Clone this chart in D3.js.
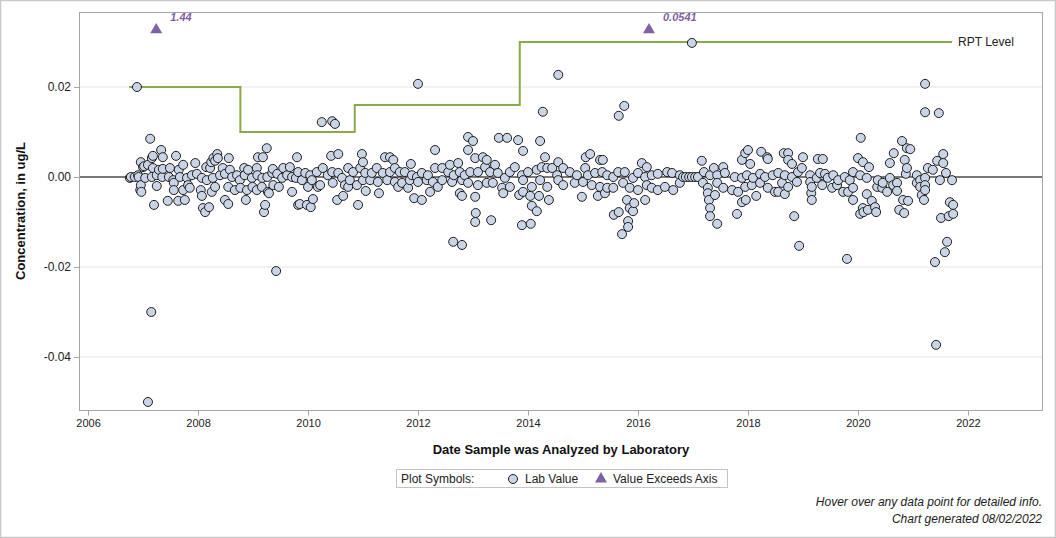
<!DOCTYPE html>
<html lang="en">
<head>
<meta charset="utf-8">
<script src="https://d3js.org/d3.v7.min.js"></script>
<style>
  body { margin: 0; background: #fff; }
  text { font-family: "Liberation Sans", Arial, sans-serif; }
</style>
</head>
<body>
<script>
// lab values: [decimal year analysed, concentration ug/L]
const labPoints = [
  [2006.76,-0.0002],[2006.78,0],[2006.85,0],[2006.89,0.0200],[2006.91,0.0004],[2006.92,0],[2006.95,-0.0029],
  [2006.96,0.0033],[2006.96,-0.0018],[2006.97,-0.0033],[2007.00,0.0022],[2007.02,0.0024],[2007.04,-0.0002],
  [2007.09,0.0027],[2007.09,-0.0500],[2007.13,0.0085],[2007.15,-0.0300],[2007.16,0.0042],[2007.16,0],
  [2007.18,0.0047],[2007.18,0.0020],[2007.20,-0.0062],[2007.25,0.0004],[2007.25,-0.0020],[2007.29,0.0016],
  [2007.33,0.0060],[2007.35,0],[2007.36,0.0044],[2007.36,0.0018],[2007.45,-0.0053],[2007.47,0],[2007.49,0.0020],
  [2007.55,-0.0007],[2007.56,-0.0013],[2007.56,-0.0029],[2007.60,0.0047],[2007.64,-0.0053],[2007.65,0.0016],
  [2007.67,0],[2007.73,0.0027],[2007.73,-0.0029],[2007.76,-0.0051],[2007.80,-0.0002],[2007.82,-0.0018],
  [2007.85,-0.0024],[2007.89,0.0004],[2007.95,0.0031],[2007.98,0.0007],[2008.05,-0.0029],[2008.07,-0.0002],
  [2008.07,-0.0042],[2008.09,-0.0069],[2008.13,-0.0078],[2008.15,0.0022],[2008.16,-0.0007],[2008.20,-0.0067],
  [2008.22,0.0020],[2008.24,0.0033],[2008.25,-0.0033],[2008.27,-0.0002],[2008.28,0.0042],[2008.31,0.0036],
  [2008.31,-0.0022],[2008.35,0.0051],[2008.36,0.0042],[2008.40,0.0004],[2008.45,0.0020],[2008.49,0.0007],
  [2008.49,-0.0051],[2008.55,-0.0022],[2008.55,-0.0060],[2008.56,0.0042],[2008.58,0.0016],[2008.62,0],
  [2008.67,-0.0029],[2008.71,0.0004],[2008.76,-0.0007],[2008.77,-0.0024],[2008.84,0.0020],[2008.85,0.0004],
  [2008.87,-0.0051],[2008.89,-0.0029],[2008.91,0.0016],[2008.98,-0.0002],[2008.99,-0.0022],[2009.07,0.0020],
  [2009.08,0.0004],[2009.07,-0.0029],[2009.09,0.0044],[2009.16,-0.0022],[2009.17,-0.0002],[2009.18,0.0044],
  [2009.20,-0.0078],[2009.22,-0.0062],[2009.25,0.0064],[2009.26,0],[2009.27,-0.0033],[2009.29,-0.0036],
  [2009.35,0.0009],[2009.36,0.0018],[2009.37,-0.0018],[2009.42,-0.0209],[2009.44,0.0007],[2009.47,-0.0022],
  [2009.53,-0.0002],[2009.55,0.0020],[2009.62,0.0004],[2009.67,0.0022],[2009.71,0],[2009.71,-0.0033],
  [2009.78,-0.0002],[2009.80,0.0044],[2009.82,-0.0062],[2009.82,0.0011],
  [2009.85,-0.0060],[2009.89,-0.0007],[2009.95,0.0009],[2009.98,-0.0062],[2010.00,-0.0022],[2010.04,0.0004],
  [2010.05,-0.0067],[2010.07,-0.0007],[2010.09,-0.0049],[2010.16,0.0011],[2010.18,-0.0022],[2010.22,-0.0018],
  [2010.25,0.0122],[2010.27,0.0020],[2010.36,0.0004],[2010.42,0.0047],[2010.44,0.0124],[2010.44,0.0011],
  [2010.45,-0.0013],[2010.49,0.0118],[2010.53,-0.0051],[2010.55,0.0051],[2010.55,0.0009],[2010.62,-0.0002],
  [2010.64,-0.0042],[2010.67,-0.0018],[2010.73,0.0020],[2010.73,-0.0022],[2010.76,-0.0007],[2010.82,0.0011],
  [2010.89,-0.0018],[2010.91,-0.0062],[2010.95,0.0020],[2010.98,0.0051],[2011.00,0.0033],[2011.00,-0.0007],
  [2011.04,0.0009],[2011.05,-0.0031],[2011.13,-0.0007],[2011.16,0.0009],[2011.25,0.0020],[2011.27,-0.0011],
  [2011.29,-0.0036],[2011.36,0.0009],[2011.40,0.0044],[2011.44,-0.0007],[2011.49,0.0044],[2011.49,0.0011],
  [2011.55,0.0038],[2011.58,0.0020],[2011.58,-0.0011],[2011.64,-0.0022],[2011.67,0.0011],[2011.71,-0.0013],
  [2011.76,0.0011],[2011.82,-0.0024],[2011.85,-0.0007],[2011.87,0.0029],[2011.89,0.0004],[2011.93,-0.0047],
  [2011.98,0],[2012.00,0.0207],[2012.00,-0.0011],[2012.07,0.0009],[2012.07,-0.0051],[2012.16,-0.0007],
  [2012.18,0.0004],[2012.22,-0.0033],[2012.27,-0.0011],[2012.31,0.0060],[2012.31,0.0020],[2012.36,-0.0022],
  [2012.44,0.0020],[2012.44,-0.0007],[2012.55,0.0011],[2012.58,0.0027],[2012.62,-0.0011],[2012.64,-0.0144],
  [2012.65,0.0004],[2012.73,0.0031],[2012.76,0.0011],[2012.76,-0.0036],[2012.80,-0.0007],[2012.80,-0.0042],
  [2012.80,-0.0151],[2012.85,0.0004],[2012.91,0.0089],[2012.91,0.0060],[2012.91,-0.0013],[2012.95,0.0011],
  [2013.00,0.0080],[2013.04,-0.0100],[2013.05,-0.0080],
  [2013.04,0.0042],[2013.04,-0.0044],[2013.09,0.0011],[2013.09,-0.0018],[2013.18,0.0044],[2013.22,0.0022],
  [2013.25,0.0038],[2013.25,-0.0013],[2013.31,0.0011],[2013.33,-0.0096],[2013.36,-0.0013],[2013.40,0.0027],
  [2013.45,0.0009],[2013.47,0.0087],[2013.53,-0.0024],[2013.55,-0.0036],[2013.58,-0.0002],[2013.62,0.0087],
  [2013.67,0.0011],[2013.67,-0.0022],[2013.76,0.0022],[2013.82,0.0082],[2013.84,-0.0040],[2013.89,0.0004],
  [2013.89,-0.0107],[2013.91,0.0058],[2013.91,-0.0007],[2013.91,-0.0033],[2014.00,0.0011],[2014.04,-0.0042],
  [2014.05,-0.0104],[2014.07,-0.0022],[2014.07,-0.0064],[2014.16,0.0016],[2014.16,-0.0076],[2014.20,-0.0042],
  [2014.22,0.0080],[2014.22,-0.0007],[2014.25,0.0022],[2014.27,0.0145],[2014.31,0.0044],[2014.35,0.0020],
  [2014.35,-0.0022],[2014.38,-0.0051],[2014.44,0.0020],[2014.53,0.0004],[2014.55,0.0227],[2014.55,0.0033],
  [2014.55,-0.0007],[2014.64,0.0020],[2014.64,-0.0018],[2014.76,0.0011],[2014.85,-0.0013],[2014.89,0.0004],
  [2014.98,-0.0044],[2015.00,-0.0011],[2015.04,0.0020],[2015.05,0.0044],[2015.09,0.0004],[2015.13,0.0051],
  [2015.16,-0.0018],[2015.22,0.0009],[2015.27,-0.0042],[2015.31,0.0038],[2015.31,-0.0022],[2015.35,0.0011],
  [2015.36,0.0038],[2015.40,-0.0036],[2015.44,0.0004],[2015.44,-0.0024],[2015.55,0],[2015.55,-0.0024],
  [2015.56,-0.0084],[2015.64,0.0011],[2015.65,0.0136],[2015.65,-0.0078],[2015.71,-0.0127],[2015.73,-0.0013],
  [2015.75,0.0158],[2015.76,0.0011],[2015.80,-0.0051],[2015.82,-0.0098],[2015.82,-0.0111],[2015.85,-0.0024],
  [2015.85,-0.0069],[2015.91,-0.0002],[2015.91,-0.0076],[2015.93,-0.0058],[2016.00,0.0009],[2016.00,-0.0029],
  [2016.07,0.0031],[2016.13,0],[2016.13,-0.0051],[2016.16,-0.0018],
  [2016.16,0.0022],[2016.25,0.0004],[2016.25,-0.0024],[2016.36,0.0007],[2016.36,-0.0029],[2016.49,-0.0022],
  [2016.53,0.0011],[2016.62,0.0009],[2016.64,-0.0029],[2016.76,0.0004],[2016.76,-0.0013],[2016.82,0],
  [2016.87,0],[2016.93,0],[2016.98,0.0298],[2016.98,0],[2017.04,0],[2017.09,0],[2017.16,0.0036],
  [2017.18,-0.0013],[2017.20,0.0011],[2017.27,-0.0024],[2017.27,-0.0036],[2017.29,-0.0051],[2017.31,0.0004],
  [2017.31,-0.0069],[2017.31,-0.0087],[2017.38,0.0020],[2017.40,-0.0040],[2017.44,0.0004],[2017.44,-0.0013],
  [2017.44,-0.0104],[2017.55,0.0022],[2017.55,-0.0024],[2017.58,0.0009],[2017.71,-0.0029],[2017.76,0],
  [2017.80,-0.0082],[2017.82,-0.0033],[2017.89,0.0038],[2017.89,-0.0002],[2017.89,-0.0056],[2017.95,0.0053],
  [2017.95,-0.0022],[2017.96,-0.0051],[2018.00,0.0060],[2017.98,0.0004],[2018.04,0.0029],[2018.07,-0.0018],
  [2018.09,-0.0002],[2018.15,-0.0042],[2018.22,0.0007],[2018.22,-0.0013],[2018.24,0.0056],[2018.31,0],
  [2018.35,0.0044],[2018.36,0.0040],[2018.36,-0.0024],[2018.45,0.0004],[2018.49,-0.0033],[2018.55,0.0009],
  [2018.55,-0.0033],[2018.62,-0.0013],[2018.65,0.0053],[2018.67,0.0004],[2018.67,-0.0038],[2018.73,0.0053],
  [2018.73,0.0038],[2018.73,-0.0022],[2018.80,0.0029],[2018.80,0],[2018.84,-0.0087],[2018.89,-0.0011],
  [2018.91,0.0011],[2018.93,-0.0153],[2018.98,0.0020],[2019.00,0.0044],[2019.13,0.0004],[2019.13,-0.0011],
  [2019.15,-0.0036],[2019.16,-0.0022],[2019.16,-0.0051],[2019.25,-0.0002],[2019.27,0.0040],[2019.36,0.0040],
  [2019.36,0.0004],
  [2019.31,0.0009],[2019.35,-0.0018],[2019.40,0.0007],[2019.45,-0.0002],[2019.53,-0.0024],[2019.55,0.0004],
  [2019.62,-0.0018],[2019.64,-0.0007],[2019.73,-0.0033],[2019.76,0],[2019.80,-0.0182],[2019.82,-0.0033],
  [2019.85,-0.0007],[2019.91,0.0011],[2019.91,-0.0024],[2019.91,-0.0051],[2020.00,0.0042],[2020.04,0.0004],
  [2020.04,-0.0082],[2020.05,0.0087],[2020.09,0.0033],[2020.09,-0.0069],[2020.10,-0.0078],[2020.16,-0.0002],
  [2020.16,-0.0038],[2020.18,-0.0073],[2020.20,0.0022],[2020.25,-0.0053],[2020.31,-0.0067],[2020.33,-0.0078],
  [2020.35,-0.0022],[2020.36,-0.0007],[2020.44,-0.0024],[2020.45,-0.0013],[2020.53,-0.0033],[2020.58,0.0031],
  [2020.58,-0.0002],[2020.64,-0.0018],[2020.65,0.0053],[2020.71,-0.0013],[2020.71,-0.0031],[2020.75,-0.0073],
  [2020.80,0.0080],[2020.82,-0.0051],[2020.84,-0.0080],[2020.85,0.0038],[2020.87,0.0007],[2020.89,0.0064],
  [2020.89,0.0020],[2020.91,-0.0053],[2020.95,0.0062],[2021.07,0.0004],[2021.07,-0.0013],[2021.13,-0.0007],
  [2021.13,-0.0022],[2021.16,-0.0040],[2021.20,-0.0051],[2021.22,0.0207],[2021.22,0.0144],[2021.22,-0.0002],
  [2021.22,-0.0018],[2021.22,-0.0029],[2021.27,0.0020],[2021.36,0.0016],[2021.40,-0.0189],[2021.42,-0.0373],
  [2021.44,0.0036],[2021.47,0.0142],[2021.49,-0.0007],[2021.51,-0.0091],[2021.55,0.0051],[2021.55,0.0031],
  [2021.58,-0.0167],[2021.60,0.0009],[2021.62,-0.0144],[2021.65,-0.0087],[2021.67,-0.0056],[2021.71,-0.0007],
  [2021.73,-0.0062],[2021.73,-0.0082]
];

// values above the axis top, drawn as triangles at the top with their value as label
const exceedYears = [2007.24, 2016.2];
const exceedValues = ["1.44", "0.0541"];

// reporting level steps (year the level starts, level)
const rptYears = [2006.75, 2008.77, 2010.85, 2013.85, 2021.71];
const rptLevels = [0.02, 0.01, 0.016, 0.03, 0.03];

const xTicks = [2006, 2008, 2010, 2012, 2014, 2016, 2018, 2020, 2022];
const yTicks = [-0.04, -0.02, 0, 0.02];

const W = 1056, H = 538;
const pLeft = 79, pRight = 1043, pTop = 12, pBottom = 410;

const svg = d3.select("body").append("svg")
  .attr("width", W).attr("height", H);

svg.append("rect")
  .attr("x", 0.5).attr("y", 0.5).attr("width", W - 1).attr("height", H - 1)
  .attr("fill", "#fff").attr("stroke", "#c8c8c8").attr("stroke-width", 1.5);

const x = d3.scaleLinear().domain([2005.836, 2023.364]).range([pLeft, pRight]);
const y = d3.scaleLinear().domain([-0.05178, 0.03667]).range([pBottom, pTop]);

// gridlines
svg.append("g").selectAll("line")
  .data(yTicks.filter(d => d !== 0))
  .enter().append("line")
  .attr("x1", pLeft).attr("x2", pRight)
  .attr("y1", d => y(d)).attr("y2", d => y(d))
  .attr("stroke", "#e4e4e4").attr("stroke-width", 1);

// zero line
svg.append("line")
  .attr("x1", pLeft).attr("x2", pRight)
  .attr("y1", y(0)).attr("y2", y(0))
  .attr("stroke", "#7a7a7a").attr("stroke-width", 2);

// frame
svg.append("rect")
  .attr("x", pLeft + 0.5).attr("y", pTop + 0.5)
  .attr("width", pRight - pLeft - 1).attr("height", pBottom - pTop)
  .attr("fill", "none").attr("stroke", "#a6a6a6");

// axes
const xAxis = svg.append("g")
  .attr("transform", `translate(0,${pBottom + 0.5})`)
  .call(d3.axisBottom(x).tickValues(xTicks).tickFormat(d3.format("d")).tickSize(5).tickPadding(4));
xAxis.select(".domain").remove();
xAxis.selectAll("line").attr("stroke", "#a6a6a6");
xAxis.selectAll("text").attr("fill", "#222").style("font-size", "11px")
  .style("font-family", "'Liberation Sans', Arial, sans-serif");

const yAxis = svg.append("g")
  .attr("transform", `translate(${pLeft},0)`)
  .call(d3.axisLeft(y).tickValues(yTicks).tickFormat(d => d.toFixed(2)).tickSize(5).tickPadding(3));
yAxis.select(".domain").remove();
yAxis.selectAll("line").attr("stroke", "#a6a6a6");
yAxis.selectAll("text").attr("fill", "#222").style("font-size", "12px")
  .style("font-family", "'Liberation Sans', Arial, sans-serif");

// RPT level step line
const rptData = rptYears.map((d, i) => [d, rptLevels[i]]);
svg.append("path")
  .datum(rptData)
  .attr("fill", "none")
  .attr("stroke", "#89a94b")
  .attr("stroke-width", 2)
  .attr("d", d3.line().x(d => x(d[0])).y(d => y(d[1])).curve(d3.curveStepAfter));

svg.append("text")
  .attr("x", x(rptYears[rptYears.length - 1]) + 6)
  .attr("y", y(0.03) + 4)
  .style("font-size", "12px").attr("fill", "#222")
  .text("RPT Level");

// lab value points
svg.append("g").selectAll("circle")
  .data(labPoints)
  .enter().append("circle")
  .attr("cx", d => x(d[0]))
  .attr("cy", d => y(d[1]))
  .attr("r", 4.5)
  .attr("fill", "#c9d5e6")
  .attr("stroke", "#1e1e1e")
  .attr("stroke-width", 1);

// exceed markers
const tri = d3.symbol().type(d3.symbolTriangle).size(62);
const topVal = 0.0327;
svg.append("g").selectAll("path")
  .data(exceedYears)
  .enter().append("path")
  .attr("d", tri)
  .attr("transform", d => `translate(${x(d)},${y(topVal)})`)
  .attr("fill", "#7f62a3");
svg.append("g").selectAll("text")
  .data(exceedYears)
  .enter().append("text")
  .attr("x", d => x(d) + 14)
  .attr("y", 21)
  .style("font-size", "11px").style("font-weight", "bold").style("font-style", "italic")
  .attr("fill", "#7f62a3")
  .text((d, i) => exceedValues[i]);

// axis titles
svg.append("text")
  .attr("x", (pLeft + pRight) / 2).attr("y", 454)
  .attr("text-anchor", "middle")
  .style("font-size", "13px").style("font-weight", "bold").attr("fill", "#111")
  .text("Date Sample was Analyzed by Laboratory");

svg.append("text")
  .attr("transform", `translate(25,${(pTop + pBottom) / 2}) rotate(-90)`)
  .attr("text-anchor", "middle")
  .style("font-size", "13px").style("font-weight", "bold").attr("fill", "#111")
  .text("Concentration, in ug/L");

// legend
const lg = svg.append("g");
lg.append("rect")
  .attr("x", 396.5).attr("y", 469.5).attr("width", 331).attr("height", 18)
  .attr("fill", "#fff").attr("stroke", "#c4c4c4");
lg.append("text").attr("x", 401).attr("y", 483).style("font-size", "12px").attr("fill", "#222")
  .text("Plot Symbols:");
lg.append("circle").attr("cx", 513).attr("cy", 479).attr("r", 4.5)
  .attr("fill", "#c9d5e6").attr("stroke", "#1e1e1e");
lg.append("text").attr("x", 525).attr("y", 483).style("font-size", "12px").attr("fill", "#222")
  .text("Lab Value");
lg.append("path").attr("d", tri).attr("transform", "translate(601,479)").attr("fill", "#7f62a3");
lg.append("text").attr("x", 613).attr("y", 483).style("font-size", "12px").attr("fill", "#222")
  .text("Value Exceeds Axis");

// footer
svg.append("text").attr("x", 1042).attr("y", 506).attr("text-anchor", "end")
  .style("font-size", "12px").style("font-style", "italic").attr("fill", "#222")
  .text("Hover over any data point for detailed info.");
svg.append("text").attr("x", 1042).attr("y", 523).attr("text-anchor", "end")
  .style("font-size", "12px").style("font-style", "italic").attr("fill", "#222")
  .text("Chart generated 08/02/2022");
</script>
</body>
</html>
